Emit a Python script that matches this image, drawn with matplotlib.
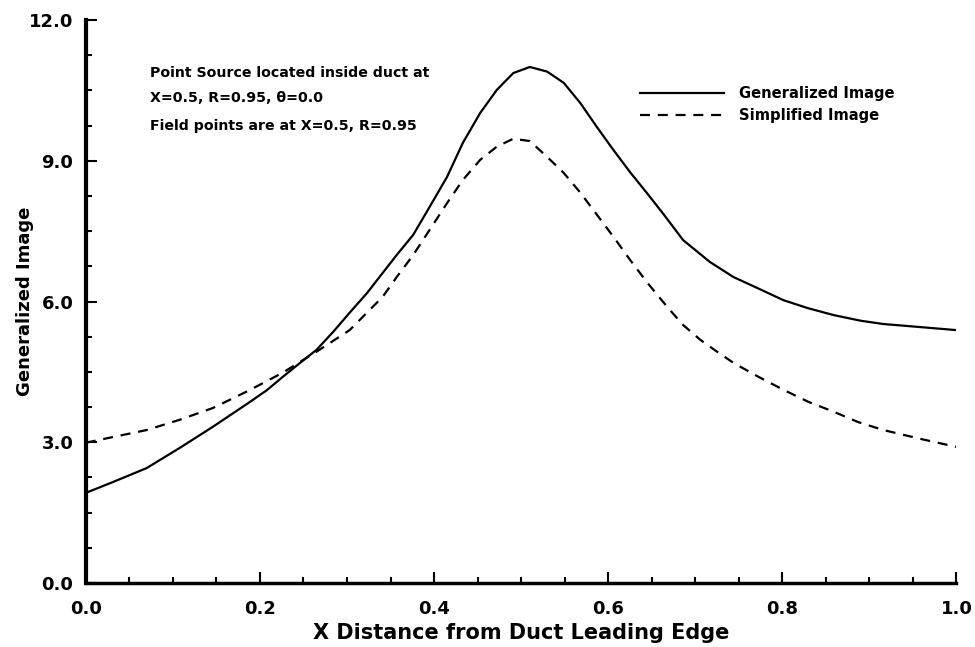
import numpy as np
import matplotlib
matplotlib.use('Agg')
import matplotlib.pyplot as plt
from matplotlib.ticker import MultipleLocator, FormatStrFormatter

# values
gen_x = [0.0, 0.031, 0.07, 0.108, 0.146, 0.187, 0.208, 0.226, 0.246, 0.265,
         0.284, 0.303, 0.323, 0.341, 0.357, 0.376, 0.395, 0.415, 0.433, 0.453,
         0.472, 0.491, 0.51, 0.53, 0.549, 0.568, 0.587, 0.606, 0.625, 0.645,
         0.664, 0.686, 0.717, 0.744, 0.771, 0.801, 0.829, 0.859, 0.890, 0.916,
         0.955, 1.0]
gen_y = [1.92, 2.15, 2.45, 2.88, 3.33, 3.84, 4.11, 4.39, 4.69, 4.97,
         5.35, 5.76, 6.18, 6.61, 6.99, 7.42, 8.02, 8.66, 9.38, 10.02,
         10.51, 10.87, 11.0, 10.9, 10.66, 10.23, 9.72, 9.23, 8.76, 8.30,
         7.85, 7.31, 6.84, 6.52, 6.29, 6.03, 5.86, 5.71, 5.59, 5.52,
         5.46, 5.39]

simp_x = [0.0, 0.031, 0.07, 0.108, 0.146, 0.187, 0.226, 0.265, 0.303, 0.341,
          0.357, 0.376, 0.395, 0.415, 0.433, 0.453, 0.472, 0.491, 0.51, 0.53,
          0.549, 0.568, 0.587, 0.606, 0.625, 0.645, 0.668, 0.686, 0.706, 0.725,
          0.744, 0.773, 0.801, 0.830, 0.859, 0.887, 0.916, 0.959, 1.0]
simp_y = [2.99, 3.11, 3.26, 3.48, 3.73, 4.10, 4.48, 4.93, 5.39, 6.10,
          6.52, 6.99, 7.53, 8.10, 8.59, 9.02, 9.30, 9.47, 9.42, 9.08,
          8.74, 8.32, 7.85, 7.38, 6.89, 6.40, 5.88, 5.50, 5.18, 4.93,
          4.69, 4.39, 4.12, 3.86, 3.65, 3.43, 3.26, 3.07, 2.90]

notes = ['Point Source located inside duct at',
         'X=0.5, R=0.95, \u03b8=0.0',
         'Field points are at X=0.5, R=0.95']

plt.rcParams['font.family'] = 'DejaVu Sans'
plt.rcParams['font.weight'] = 'bold'

fig = plt.figure(figsize=(9.75, 6.47), dpi=100)
ax = fig.add_axes([0.088, 0.099, 0.893, 0.870])

ax.plot(gen_x, gen_y, color='black', lw=1.6, solid_joinstyle='round',
        label='Generalized Image')
ax.plot(simp_x, simp_y, color='black', lw=1.6, dashes=(4.5, 3.5),
        label='Simplified Image')

ax.set_xlim(0, 1.0)
ax.set_ylim(0, 12.0)
ax.xaxis.set_major_locator(MultipleLocator(0.2))
ax.xaxis.set_minor_locator(MultipleLocator(0.05))
ax.yaxis.set_major_locator(MultipleLocator(3.0))
ax.yaxis.set_minor_locator(MultipleLocator(0.75))
ax.xaxis.set_major_formatter(FormatStrFormatter('%.1f'))
ax.yaxis.set_major_formatter(FormatStrFormatter('%.1f'))
ax.tick_params(which='both', direction='in', width=1.5, labelsize=13, top=False, right=False)
ax.tick_params(which='major', length=8)
ax.tick_params(which='minor', length=4)
ax.tick_params(axis='x', which='major', pad=12)
ax.tick_params(axis='y', which='major', pad=9)

for s in ['top', 'right']:
    ax.spines[s].set_visible(False)
ax.spines['left'].set_linewidth(3)
ax.spines['bottom'].set_linewidth(2.5)

ax.set_xlabel('X Distance from Duct Leading Edge', fontsize=15, fontweight='bold', labelpad=4)
ax.set_ylabel('Generalized Image', fontsize=13, fontweight='bold', labelpad=-4)

for txt, yy in zip(notes, [0.906, 0.861, 0.812]):
    ax.text(0.0736, yy, txt, transform=ax.transAxes, fontsize=10.2,
            fontweight='bold', va='center', ha='left')

ax.legend(loc='center left', bbox_to_anchor=(0.637, 0.85), frameon=False,
          fontsize=10.6, handlelength=5.7, handletextpad=1.0, borderpad=0,
          borderaxespad=0, labelspacing=0.45)

fig.savefig('out.png', dpi=100)
